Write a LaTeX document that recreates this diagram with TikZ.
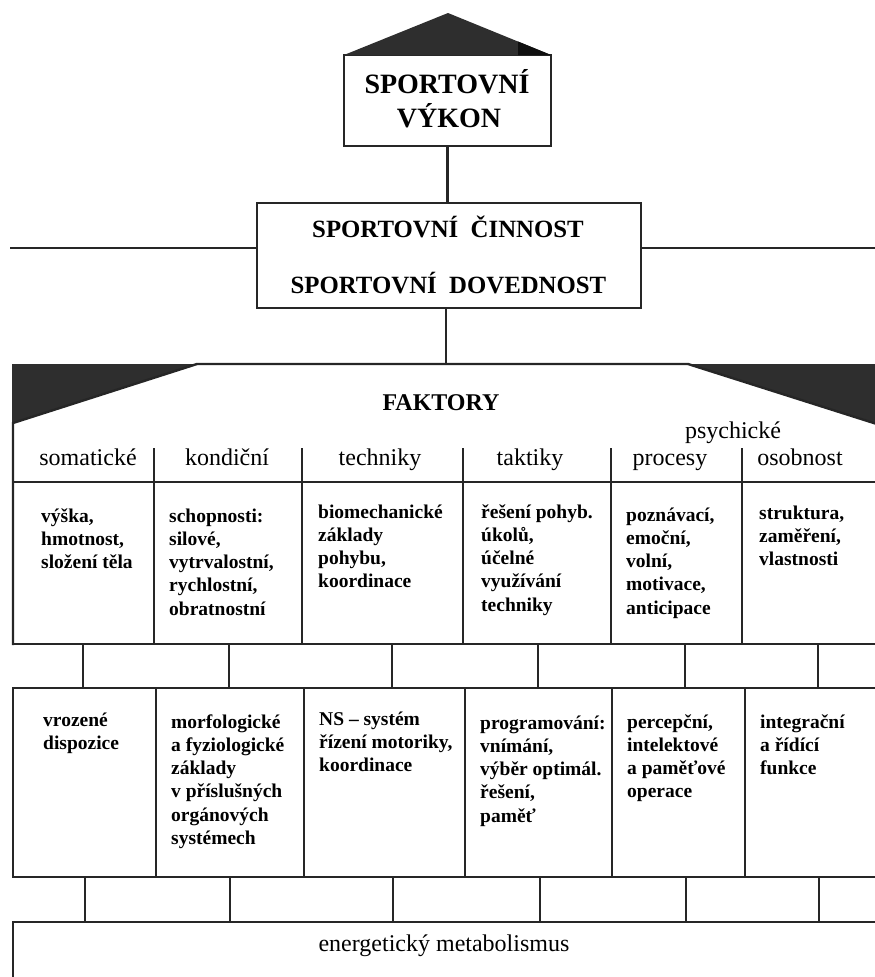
\documentclass[tikz,border=0pt]{standalone}
\usepackage{fontspec}
\setmainfont{Liberation Serif}
\begin{document}
\begin{tikzpicture}[x=1pt,y=-1pt,
  line width=2.4pt, line join=miter, line cap=rect,
  ln/.style={draw=black!85},
  roof/.style={fill=black!82},
  roofdark/.style={fill=black!94},
  boxnode/.style={draw=black!85, anchor=north west, inner sep=0pt, outer sep=0pt},
  bigtxt/.style={anchor=base, inner sep=0pt, font=\bfseries\fontsize{28}{32}\selectfont},
  midtxt/.style={anchor=base, inner sep=0pt, font=\bfseries\fontsize{24.8}{29}\selectfont},
  titletxt/.style={anchor=base, inner sep=0pt, font=\bfseries\fontsize{24}{28}\selectfont},
  hd/.style={anchor=base, inner sep=0pt, font=\fontsize{24}{28}\selectfont},
  bt/.style={anchor=base west, inner sep=0pt, font=\bfseries\fontsize{19.5}{23.3}\selectfont}
]
\useasboundingbox (0,0) rectangle (875,977);

% ---- top box with roof
\node[boxnode, minimum width=207pt, minimum height=91pt] (vykon) at (344,55) {};
\coordinate (apex) at (448,13);
\fill[roof] (vykon.north west) -- (apex) -- (vykon.north east) -- cycle;
\fill[roofdark] (518,41.5) -- (vykon.north east) -- (518,55) -- cycle;
\node[bigtxt] (v1) at (447,93) {SPORTOVNÍ};
\node[bigtxt] (v2) at (449,127) {VÝKON};

% ---- second box
\node[boxnode, minimum width=384pt, minimum height=105pt] (cinnost) at (257,203) {};
\node[midtxt] (c1) at (448,237) {SPORTOVNÍ\ \ ČINNOST};
\node[midtxt] (c2) at (448.5,293) {SPORTOVNÍ\ \ DOVEDNOST};
\draw[ln] (vykon.south) -- (vykon.south |- cinnost.north);
\coordinate (hl) at (11,248);
\coordinate (hr) at (880,248);
\draw[ln] (hl) -- (cinnost.west |- hl);
\draw[ln] (cinnost.east |- hr) -- (hr);

% ---- FAKTORY block
\coordinate (ftop) at (446,364);
\draw[ln] (cinnost.south -| ftop) -- (ftop);
\fill[roof] (12,364) -- (197,364) -- (12,423) -- cycle;
\fill[roof] (688,364) -- (880,364) -- (880,425) -- cycle;
\draw[ln] (13,644) -- (13,423) -- (197,364) -- (688,364) -- (880,425);
\draw[ln] (13,482) -- (880,482);
\draw[ln] (13,644) -- (880,644);
\foreach \x in {154,302,463,611,742} \draw[ln] (\x,449) -- (\x,644);

\node[titletxt] (fak) at (441,410) {FAKTORY};
\node[hd] (psy) at (733,438) {psychické};
\node[hd] (h1) at (88,465) {somatické};
\node[hd] (h2) at (227,465) {kondiční};
\node[hd] (h3) at (380,465) {techniky};
\node[hd] (h4) at (530,465) {taktiky};
\node[hd] (h5) at (670,465) {procesy};
\node[hd] (h6) at (800,465) {osobnost};

\node[bt] (a1) at (40,522) {\parbox[t]{110pt}{\raggedright výška,\\hmotnost,\\složení těla}};
\node[bt] (a2) at (168,522) {\parbox[t]{130pt}{\raggedright schopnosti:\\silové,\\vytrvalostní,\\rychlostní,\\obratnostní}};
\node[bt] (a3) at (317,518) {\parbox[t]{140pt}{\raggedright biomechanické\\základy\\pohybu,\\koordinace}};
\node[bt] (a4) at (480,518) {\parbox[t]{130pt}{\raggedright řešení pohyb.\\úkolů,\\účelné\\využívání\\techniky}};
\node[bt] (a5) at (625,521) {\parbox[t]{115pt}{\raggedright poznávací,\\emoční,\\volní,\\motivace,\\anticipace}};
\node[bt] (a6) at (758,519) {\parbox[t]{115pt}{\raggedright struktura,\\zaměření,\\vlastnosti}};

% ---- connectors row1 -> row2
\foreach \x [count=\i] in {83,229,392,538,685,818} {
  \coordinate (ua\i) at (\x,644);
  \coordinate (ub\i) at (\x,688);
  \draw[ln] (ua\i) -- (ub\i);
}

% ---- row 2
\draw[ln] (880,688) -- (13,688) -- (13,877) -- (880,877);
\foreach \x in {156,304,465,612,745} \draw[ln] (\x,688) -- (\x,877);

\node[bt] (b1) at (42,726) {\parbox[t]{110pt}{\raggedright vrozené\\dispozice}};
\node[bt] (b2) at (170,728) {\parbox[t]{130pt}{\raggedright morfologické\\a fyziologické\\základy\\v příslušných\\orgánových\\systémech}};
\node[bt] (b3) at (318,725) {\parbox[t]{145pt}{\raggedright NS – systém\\řízení motoriky,\\koordinace}};
\node[bt] (b4) at (479,729) {\parbox[t]{135pt}{\raggedright programování:\\vnímání,\\výběr optimál.\\řešení,\\paměť}};
\node[bt] (b5) at (626,728) {\parbox[t]{118pt}{\raggedright percepční,\\intelektové\\a paměťové\\operace}};
\node[bt] (b6) at (759,728) {\parbox[t]{115pt}{\raggedright integrační\\a řídící\\funkce}};

% ---- connectors row2 -> bottom
\foreach \x [count=\i] in {85,230,393,540,686,819} {
  \coordinate (va\i) at (\x,877);
  \coordinate (vb\i) at (\x,922);
  \draw[ln] (va\i) -- (vb\i);
}

% ---- bottom box
\draw[ln] (880,922) -- (13,922) -- (13,990);
\node[hd] (energ) at (444,951) {energetický metabolismus};
\end{tikzpicture}
\end{document}
